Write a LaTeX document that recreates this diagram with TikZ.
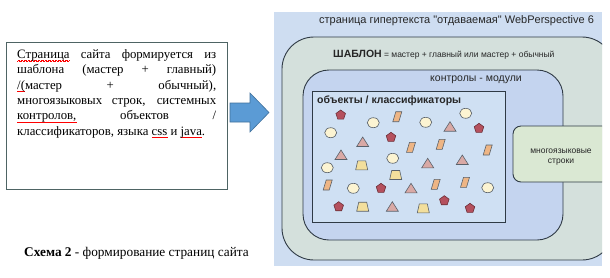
\documentclass[tikz,border=0pt]{standalone}
\usepackage{fontspec}
\setmainfont{Liberation Serif}
\newfontfamily\arialf{Liberation Sans}
\usetikzlibrary{shapes.geometric}
\newsavebox\sqbox
\newcommand\redsq[1]{\sbox\sqbox{#1}\leavevmode\rlap{\lower2.8pt\hbox to \wd\sqbox{\color{red}\xleaders\hbox{\rule{0.7pt}{0.6pt}\raise0.6pt\hbox{\rule{0.7pt}{0.6pt}}}\hfil}}\usebox\sqbox}
\definecolor{bgblue}{HTML}{CEDDF1}
\definecolor{tplfill}{HTML}{D4E0DC}
\definecolor{ctlfill}{HTML}{C4D4EF}
\definecolor{objfill}{HTML}{CFE0F3}
\definecolor{mlfill}{HTML}{DAE8D3}
\definecolor{edge}{HTML}{2F3A45}
\definecolor{boxedge}{HTML}{4E6464}
\definecolor{pentc}{HTML}{B5505D}
\definecolor{circc}{HTML}{FCF4D2}
\definecolor{tric}{HTML}{D9A9A5}
\definecolor{parac}{HTML}{EEB584}
\definecolor{trapc}{HTML}{F3DF9C}
\definecolor{arrowc}{HTML}{5B9BD5}
\definecolor{arrowe}{HTML}{41719C}
\begin{document}
\begin{tikzpicture}[x=1pt,y=-1pt,
  region/.style={draw=edge, line width=0.9pt},
  shp/.style={draw=edge!80, line width=0.6pt},
  lbl/.style={inner sep=0pt, text=black!85},
  pics/pent/.style={code={\draw[shp,fill=pentc,draw=pentc!60!black] (0,-5)--(4.76,-1.55)--(2.94,4.05)--(-2.94,4.05)--(-4.76,-1.55)--cycle;}},
  pics/circ/.style={code={\draw[shp,fill=circc] (0,0) ellipse [x radius=6, y radius=5];}},
  pics/tri/.style={code={\draw[shp,fill=tric] (-6,4.5)--(6,4.5)--(0,-5)--cycle;}},
  pics/para/.style={code={\draw[shp,fill=parac] (-4.5,5)--(1.5,5)--(4.5,-5)--(-1.5,-5)--cycle;}},
  pics/trap/.style={code={\draw[shp,fill=trapc] (-6,4.5)--(6,4.5)--(4,-4.5)--(-4,-4.5)--cycle;}}
]
\useasboundingbox (0,0) rectangle (610,277);
\clip (0,0) rectangle (610,277);
\fill[white] (0,0) rectangle (610,277);

% left text box
\draw[boxedge, line width=0.9pt] (6,42) rectangle (227,189);
\node[anchor=north west, inner sep=0pt, text width=199pt, align=justify,
      font=\fontsize{12.8}{15.33}\selectfont] (txt) at (17,49.5) {%
\redsq{Страница} сайта формируется из\linebreak
шаблона (мастер + главный)\linebreak
\redsq{/(}мастер + обычный),\linebreak
многоязыковых строк, системных\linebreak
\redsq{контролов,} объектов /\linebreak
классификаторов, языка \redsq{css} и \redsq{java}.};

% arrow
\draw[fill=arrowc, draw=arrowe, line width=0.6pt]
  (230,103) -- (250,103) -- (250,93) -- (269,112.5) -- (250,132) -- (250,122) -- (230,122) -- cycle;

% caption
\node[anchor=base, inner sep=0pt, font=\fontsize{13.3}{16}\selectfont] (cap) at (136.5,256)
  {\textbf{Схема 2} - формирование страниц сайта};

% diagram
\fill[bgblue] (274,12) rectangle (602,266);
\begin{scope}
\clip (274,12) rectangle (602,266);
\draw[region, fill=tplfill, rounded corners=32pt] (282,37) rectangle (614,260);
\draw[region, fill=ctlfill, rounded corners=26pt] (303,70) rectangle (563,240);
\draw[region, fill=objfill] (312,91) rectangle (505,222);
\draw[region, fill=mlfill, rounded corners=8pt] (513,126) rectangle (616,182);
\end{scope}

\node[lbl, anchor=west, font=\arialf\fontsize{11}{13}\selectfont] (title) at (319,21)
  {страница гипертекста "отдаваемая" WebPerspective 6};
\node[lbl, anchor=west, font=\arialf\fontsize{8.5}{10}\selectfont] (tpl) at (333,55)
  {{\fontsize{10.5}{12}\selectfont\bfseries ШАБЛОН} = мастер + главный или мастер + обычный};
\node[lbl, anchor=west, font=\arialf\fontsize{10.5}{12}\selectfont] (ctl) at (430,80)
  {контролы - модули};
\node[lbl, anchor=west, font=\arialf\bfseries\fontsize{10.5}{12}\selectfont] (obj) at (317,101)
  {объекты / классификаторы};
\node[lbl, align=center, font=\arialf\fontsize{8.5}{10.5}\selectfont] (ml) at (561,157)
  {многоязыковые\\строки};

% objects
\foreach \p in {(340.7,115),(479,128.3),(391,137.3),(381,188.3),(444.3,200.7),(338.7,206.7),(470,208.3)}
  \pic at \p {pent};
\foreach \p in {(373.3,122.7),(425.7,122.3),(465.7,113.3),(330.7,132.7),(392.7,158.3),(327.3,167.7),(353.3,188.3),(487.7,187.7)}
  \pic at \p {circ};
\foreach \p in {(450,126.7),(362.7,142),(341,155),(427.7,163.3),(462.3,160),(411,188.3),(392.3,206.7)}
  \pic at \p {tri};
\foreach \p in {(397.3,116.7),(411,147.3),(440.7,144.3),(487.7,150),(327.7,185),(435.7,184.3),(465,182.3)}
  \pic at \p {para};
\foreach \p in {(361.7,165.3),(395.7,175),(362.7,206.7),(423.3,208.3)}
  \pic at \p {trap};
\end{tikzpicture}
\end{document}
